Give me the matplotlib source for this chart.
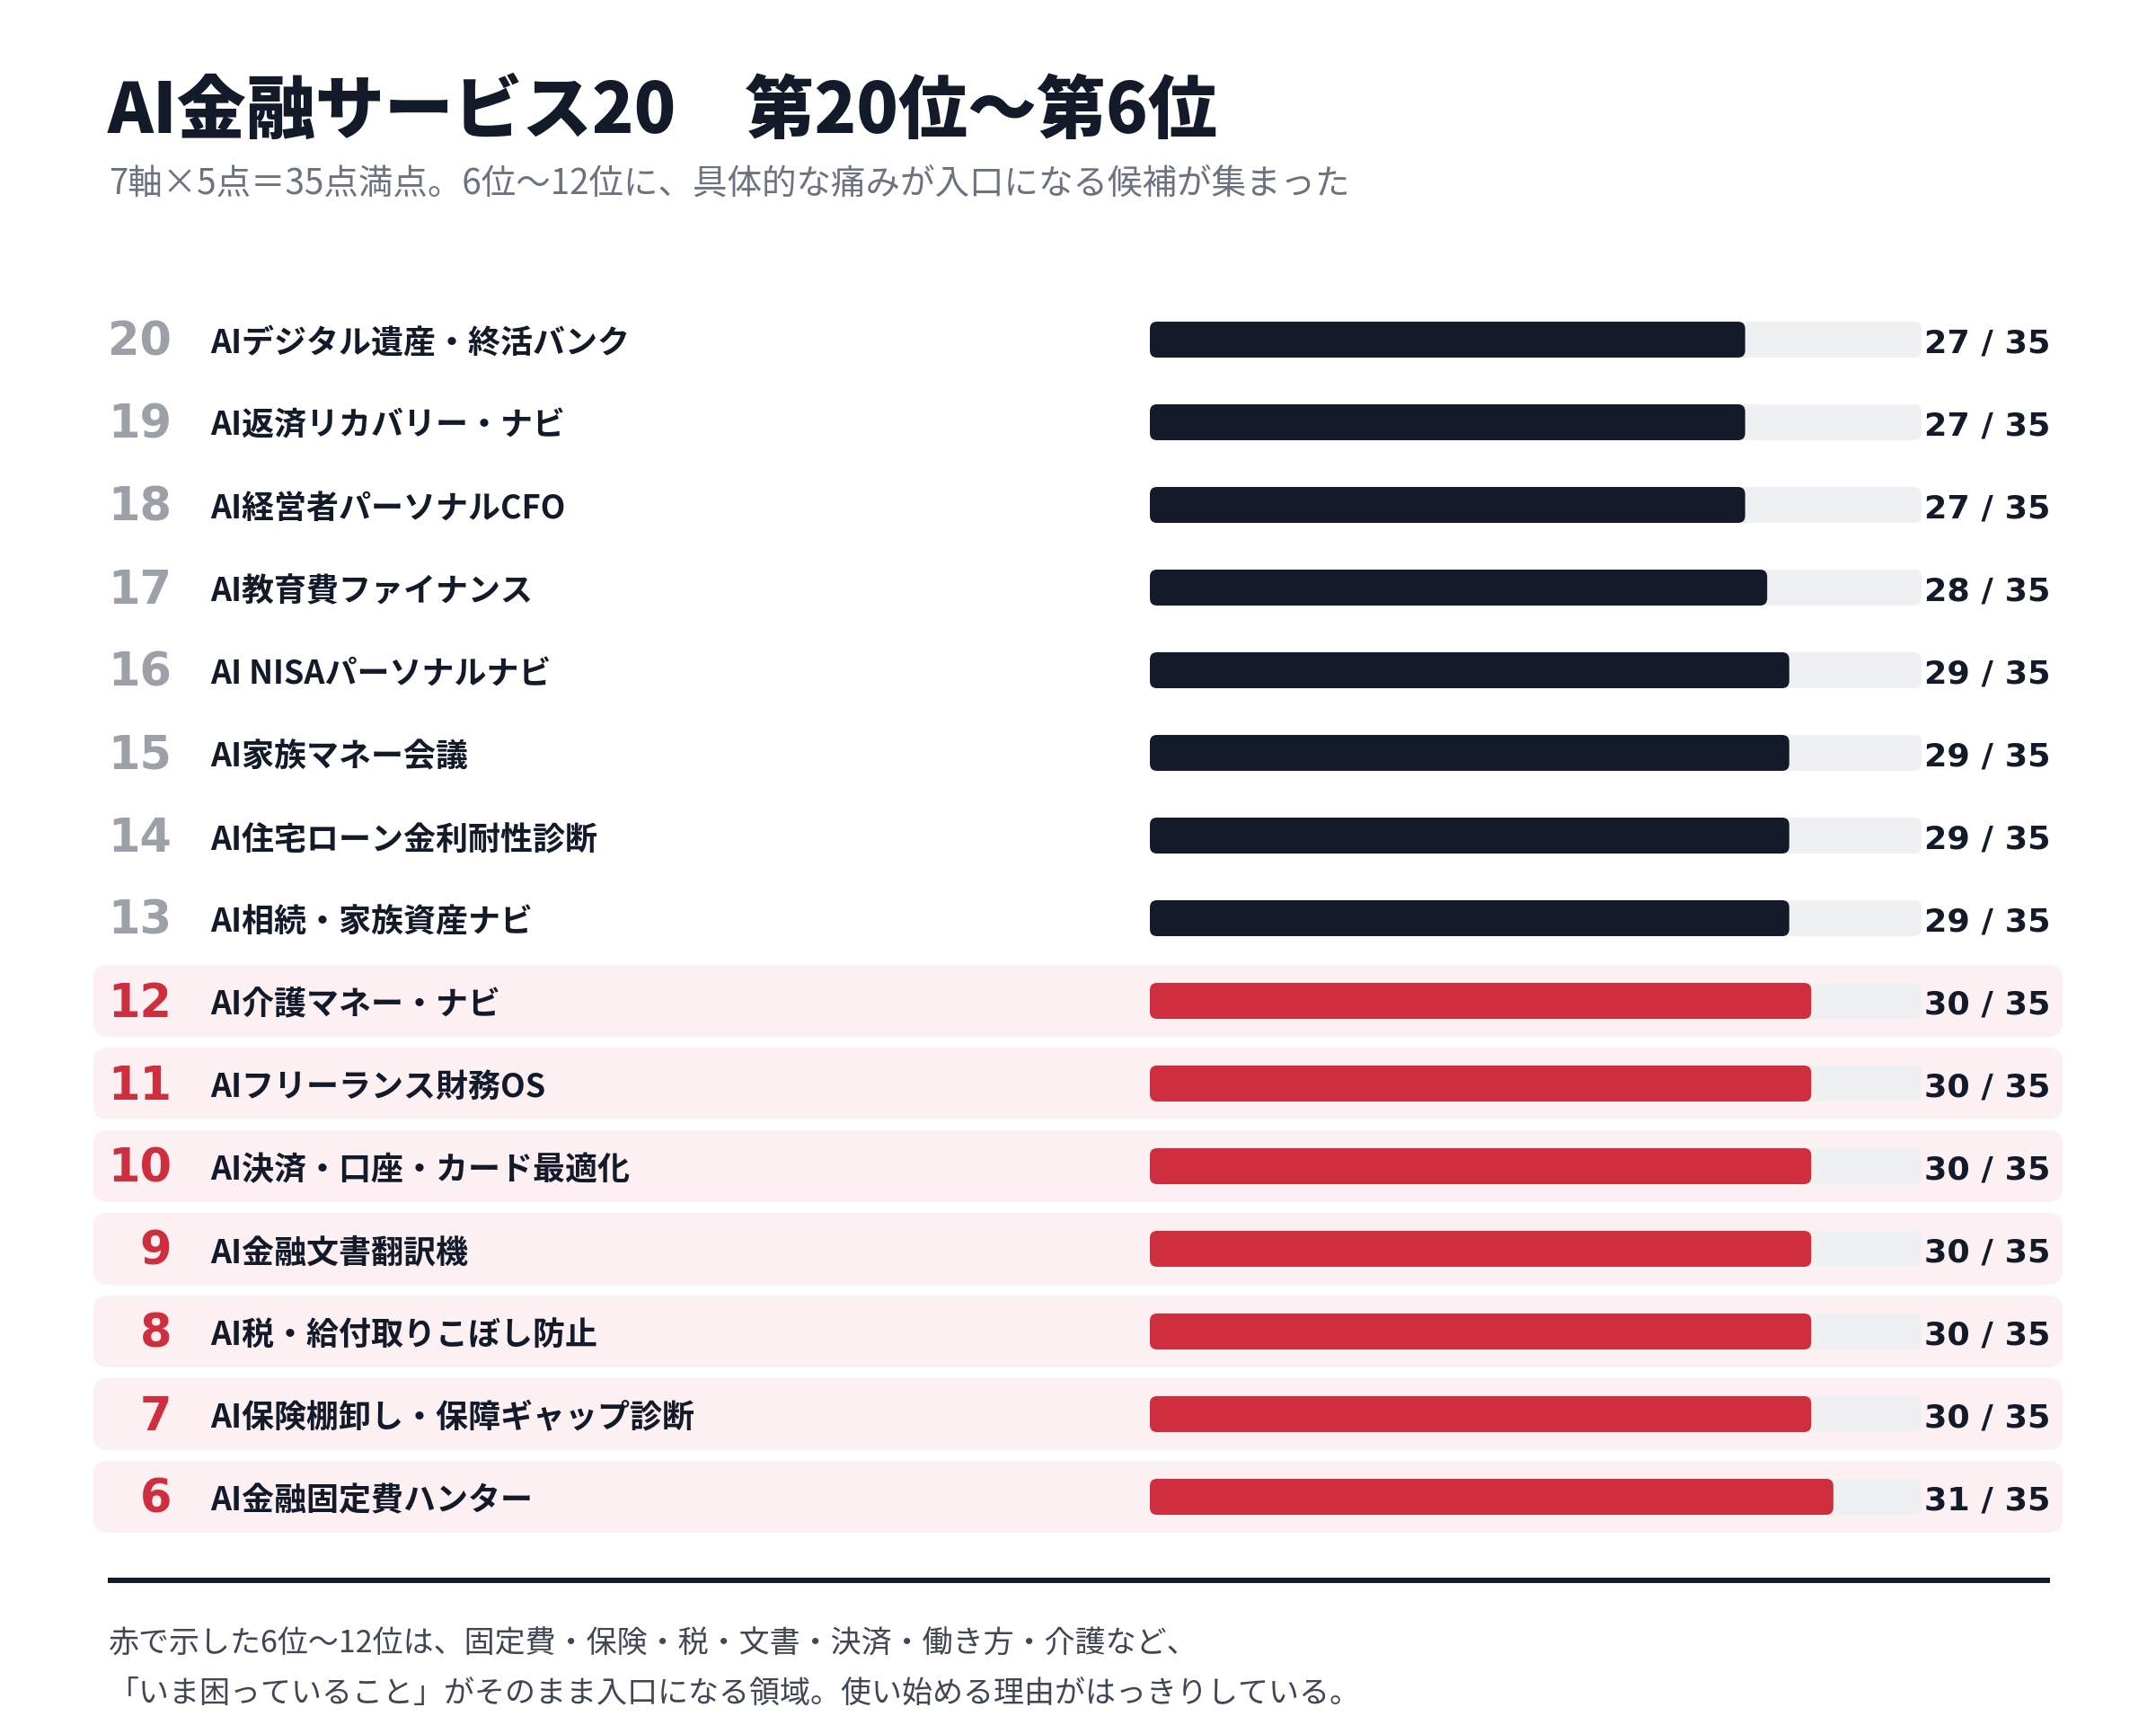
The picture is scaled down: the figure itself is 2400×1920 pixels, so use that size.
import matplotlib
matplotlib.use("Agg")
import matplotlib.pyplot as plt
from matplotlib.patches import FancyBboxPatch
from matplotlib.transforms import blended_transform_factory, ScaledTranslation

# ---------------- data ----------------
ranks = [20, 19, 18, 17, 16, 15, 14, 13, 12, 11, 10, 9, 8, 7, 6]
names = [
    "AIデジタル遺産・終活バンク",
    "AI返済リカバリー・ナビ",
    "AI経営者パーソナルCFO",
    "AI教育費ファイナンス",
    "AI NISAパーソナルナビ",
    "AI家族マネー会議",
    "AI住宅ローン金利耐性診断",
    "AI相続・家族資産ナビ",
    "AI介護マネー・ナビ",
    "AIフリーランス財務OS",
    "AI決済・口座・カード最適化",
    "AI金融文書翻訳機",
    "AI税・給付取りこぼし防止",
    "AI保険棚卸し・保障ギャップ診断",
    "AI金融固定費ハンター",
]
scores = [27, 27, 27, 28, 29, 29, 29, 29, 30, 30, 30, 30, 30, 30, 31]
max_score = 35
highlight_rank = 12  # ranks <= this are highlighted in red

title = "AI金融サービス20\u3000第20位〜第6位"
subtitle = "7軸×5点＝35点満点。6位〜12位に、具体的な痛みが入口になる候補が集まった"
footer_lines = [
    "赤で示した6位〜12位は、固定費・保険・税・文書・決済・働き方・介護など、",
    "「いま困っていること」がそのまま入口になる領域。使い始める理由がはっきりしている。",
]

# ---------------- style ----------------
NAVY = "#131a2a"
RED = "#cf2e3f"
TRACK = "#eff0f2"
PINK = "#fcf0f2"
RANK_GRAY = "#9ca1a9"
SUB_GRAY = "#6b7280"
FOOT_GRAY = "#3f4654"
CJK = ["Noto Sans CJK JP", "DejaVu Sans"]
NUM = ["DejaVu Sans"]

W, H, DPI = 2400, 1920, 200


def pt(px):
    return px * 72.0 / DPI


fig = plt.figure(figsize=(W / DPI, H / DPI), dpi=DPI)
fig.patch.set_facecolor("white")

# layout axes in pixel units
lay = fig.add_axes([0, 0, 1, 1])
lay.set_xlim(0, W)
lay.set_ylim(H, 0)
lay.axis("off")

# bar axes: x in score units, y in row index
n = len(ranks)
row0, step = 378.0, 92.0
y_top = row0 - step / 2
y_bot = row0 + step * (n - 0.5)
bx0, bx1 = 1280.0, 2139.0
bar = fig.add_axes([bx0 / W, 1 - y_bot / H, (bx1 - bx0) / W, (y_bot - y_top) / H])
bar.set_xlim(0, max_score)
bar.set_ylim(n - 0.5, -0.5)
bar.axis("off")
bar.patch.set_visible(False)

p = bar.transData.transform([(0, 0), (1, 1)])
ux = abs(p[1, 0] - p[0, 0])
uy = abs(p[1, 1] - p[0, 1])

row_tr = blended_transform_factory(lay.transData, bar.transData)


def off(dy_px):
    return ScaledTranslation(0, -dy_px / DPI, fig.dpi_scale_trans)


# ---------------- title ----------------
lay.text(120, 148, title, fontsize=pt(77), fontweight="heavy", color=NAVY,
         family=CJK, ha="left", va="baseline")
lay.text(121, 216, subtitle, fontsize=pt(38.5), color=SUB_GRAY,
         family=CJK, ha="left", va="baseline")

# ---------------- rows ----------------
bar_h = 40.0 / uy
hl_h = 80.0 / uy
for i, (rk, nm, sc) in enumerate(zip(ranks, names, scores)):
    hot = rk <= highlight_rank
    if hot:
        bg = FancyBboxPatch((104, i - hl_h / 2), 2296 - 104, hl_h,
                            boxstyle="round,pad=0,rounding_size=16",
                            mutation_aspect=1.0 / uy,
                            transform=row_tr, facecolor=PINK, edgecolor="none",
                            zorder=0)
        lay.add_patch(bg)
    # track
    bar.add_patch(FancyBboxPatch((0, i - bar_h / 2), max_score, bar_h,
                                 boxstyle="round,pad=0,rounding_size=%f" % (8.0 / ux),
                                 mutation_aspect=ux / uy,
                                 facecolor=TRACK, edgecolor="none", zorder=1))
    # value
    bar.add_patch(FancyBboxPatch((0, i - bar_h / 2), sc, bar_h,
                                 boxstyle="round,pad=0,rounding_size=%f" % (8.0 / ux),
                                 mutation_aspect=ux / uy,
                                 facecolor=RED if hot else NAVY, edgecolor="none",
                                 zorder=2))
    # rank number
    lay.text(191, i, str(rk), transform=row_tr + off(18), fontsize=pt(51),
             fontweight="bold", color=RED if hot else RANK_GRAY, family=NUM,
             ha="right", va="baseline", zorder=3)
    # name
    lay.text(234, i, nm, transform=row_tr + off(15), fontsize=pt(36),
             fontweight="bold", color=NAVY, family=CJK,
             ha="left", va="baseline", zorder=3)
    # score label
    lay.text(2142, i, f"{sc} / {max_score}", transform=row_tr + off(14),
             fontsize=pt(36.5), fontweight="bold", color=NAVY, family=NUM,
             ha="left", va="baseline", zorder=3)

# ---------------- divider & footer ----------------
lay.plot([120, 2282], [1759, 1759], color=NAVY, lw=pt(6), solid_capstyle="butt")
for k, line in enumerate(footer_lines):
    lay.text(121, 1840 + 55 * k, line, fontsize=pt(34), color=FOOT_GRAY,
             family=CJK, ha="left", va="baseline")

fig.savefig("out.png", dpi=DPI, facecolor="white")
